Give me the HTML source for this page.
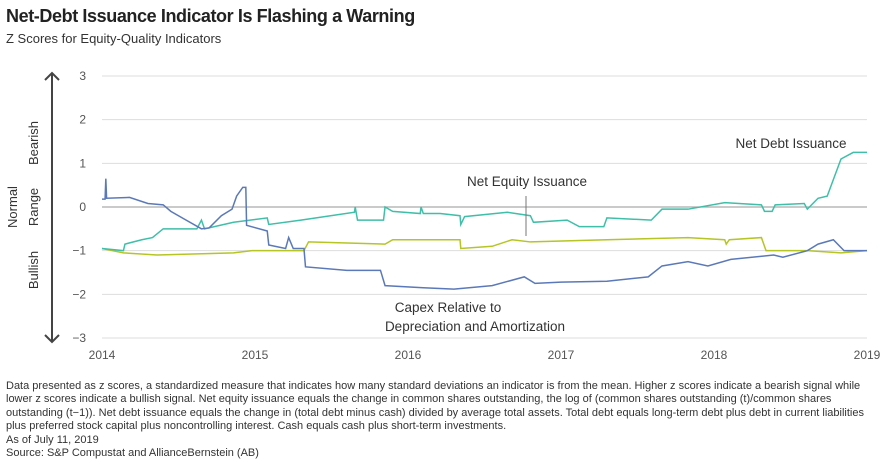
<!DOCTYPE html>
<html><head><meta charset="utf-8"><style>
body{margin:0;width:880px;height:474px;background:#fff;font-family:"Liberation Sans",sans-serif;overflow:hidden;position:relative}
.t{position:absolute;left:6px;top:6px;font-size:18px;letter-spacing:-0.4px;font-weight:bold;color:#222}
.s{position:absolute;left:6px;top:31px;font-size:13px;color:#333}
.n{position:absolute;left:6px;top:380px;width:866px;font-size:11px;line-height:13.4px;color:#333}
svg{position:absolute;left:0;top:0}
</style></head><body>
<div class="t">Net-Debt Issuance Indicator Is Flashing a Warning</div>
<div class="s">Z Scores for Equity-Quality Indicators</div>
<svg width="880" height="474" id="c"></svg>
<div class="n">Data presented as z scores, a standardized measure that indicates how many standard deviations an indicator is from the mean. Higher z scores indicate a bearish signal while lower z scores indicate a bullish signal. Net equity issuance equals the change in common shares outstanding, the log of (common shares outstanding (t)/common shares outstanding (t−1)). Net debt issuance equals the change in (total debt minus cash) divided by average total assets. Total debt equals long-term debt plus debt in current liabilities plus preferred stock capital plus noncontrolling interest. Cash equals cash plus short-term investments.<br>As of July 11, 2019<br>Source: S&amp;P Compustat and AllianceBernstein (AB)</div>
<script>
const yTicks=[3,2,1,0,-1,-2,-3];
const yTickLabels=["3","2","1","0","−1","−2","−3"];
const xTicks=[2014,2015,2016,2017,2018,2019];
const capexT=[0,0.02,0.025,0.03,0.18,0.3,0.4,0.45,0.55,0.65,0.7,0.78,0.85,0.88,0.92,0.94,0.945,1.08,1.09,1.2,1.22,1.25,1.32,1.33,1.6,1.82,1.85,2.1,2.3,2.55,2.76,2.83,3.0,3.3,3.57,3.66,3.83,3.96,4.11,4.39,4.45,4.61,4.68,4.78,4.85,5.0];
const capexV=[0.18,0.18,0.65,0.2,0.22,0.08,0.05,-0.1,-0.3,-0.5,-0.48,-0.2,-0.05,0.25,0.45,0.45,-0.42,-0.55,-0.87,-0.95,-0.7,-0.95,-0.95,-1.37,-1.45,-1.45,-1.8,-1.85,-1.88,-1.8,-1.6,-1.75,-1.72,-1.7,-1.6,-1.35,-1.25,-1.35,-1.2,-1.1,-1.15,-1.0,-0.85,-0.75,-1.0,-1.0];
const debtT=[0,0.14,0.15,0.26,0.33,0.4,0.62,0.65,0.67,0.86,1.08,1.09,1.3,1.65,1.655,1.67,1.84,1.85,1.9,2.08,2.085,2.1,2.21,2.34,2.345,2.37,2.65,2.8,2.82,3.04,3.12,3.28,3.3,3.59,3.66,3.83,4.07,4.31,4.33,4.38,4.4,4.59,4.61,4.68,4.74,4.83,4.91,5.0];
const debtV=[-0.95,-1.0,-0.85,-0.75,-0.7,-0.5,-0.5,-0.3,-0.5,-0.35,-0.25,-0.4,-0.3,-0.12,0.0,-0.3,-0.3,0.0,-0.1,-0.15,0.0,-0.15,-0.15,-0.2,-0.4,-0.22,-0.12,-0.2,-0.35,-0.3,-0.45,-0.45,-0.25,-0.3,-0.05,-0.05,0.1,0.05,-0.1,-0.1,0.05,0.08,-0.05,0.2,0.25,1.1,1.25,1.25];
const equityT=[0,0.14,0.36,0.86,0.98,1.32,1.35,1.85,1.9,2.34,2.345,2.55,2.68,2.8,3.3,3.83,4.07,4.08,4.1,4.31,4.34,4.61,4.83,5.0];
const equityV=[-0.95,-1.05,-1.1,-1.05,-1.0,-1.0,-0.8,-0.85,-0.75,-0.75,-0.95,-0.9,-0.75,-0.8,-0.75,-0.7,-0.75,-0.85,-0.75,-0.7,-1.0,-1.0,-1.05,-1.0];
const X0=102,X1=867,Y3=76,Ym3=338;
const xs=t=>X0+t*(X1-X0)/5, ys=v=>Y3+(3-v)*(Ym3-Y3)/6;
const svg=document.getElementById('c'),NS='http://www.w3.org/2000/svg';
function mk(tag,at,txt){const e=document.createElementNS(NS,tag);for(const k in at)e.setAttribute(k,at[k]);if(txt!=null)e.textContent=txt;svg.appendChild(e);return e;}
yTicks.forEach((v,i)=>{
 const g=mk('line',{x1:X0,x2:X1,y1:ys(v),y2:ys(v),stroke:v===0?'#aaa':'#ddd','stroke-width':v===0?1.2:1});
 
 
 const l=mk('text',{x:86,y:ys(v)+4,'text-anchor':'end','font-size':12,fill:'#555'},yTickLabels[i]);
 
 
});
xTicks.forEach(y=>{
 const l=mk('text',{x:xs(y-2014),y:359,'text-anchor':'middle','font-size':12,fill:'#555'},String(y));
 
 
});
function series(T,V,col,name){
 const p=mk('polyline',{points:T.map((t,i)=>xs(t)+','+ys(V[i])).join(' '),fill:'none',stroke:col,'stroke-width':1.5});
 
 
}
series(equityT,equityV,'#b5c524','net-equity-line');
series(debtT,debtV,'#3fbfa8','net-debt-line');
series(capexT,capexV,'#5b79b8','capex-line');
const a=mk('path',{d:'M52,73 V342 M45,80 L52,73 L59,80 M45,335 L52,342 L59,335',stroke:'#444','stroke-width':2,fill:'none'});


[['Bearish',38,143],['Range',38,207],['Normal',17,207],['Bullish',38,270]].forEach(d=>{
 const t=mk('text',{x:d[1],y:d[2],'text-anchor':'middle','font-size':13,fill:'#333',transform:`rotate(-90 ${d[1]} ${d[2]})`},d[0]);
 
 
});
[['Net Debt Issuance',791,148],['Net Equity Issuance',527,186],['Capex Relative to',448,312],['Depreciation and Amortization',475,331]].forEach(d=>{
 const t=mk('text',{x:d[1],y:d[2],'text-anchor':'middle','font-size':13.5,fill:'#333'},d[0]);
 
 
});
const ln=mk('line',{x1:526,x2:526,y1:196,y2:236,stroke:'#777','stroke-width':1});


</script>
</body></html>
